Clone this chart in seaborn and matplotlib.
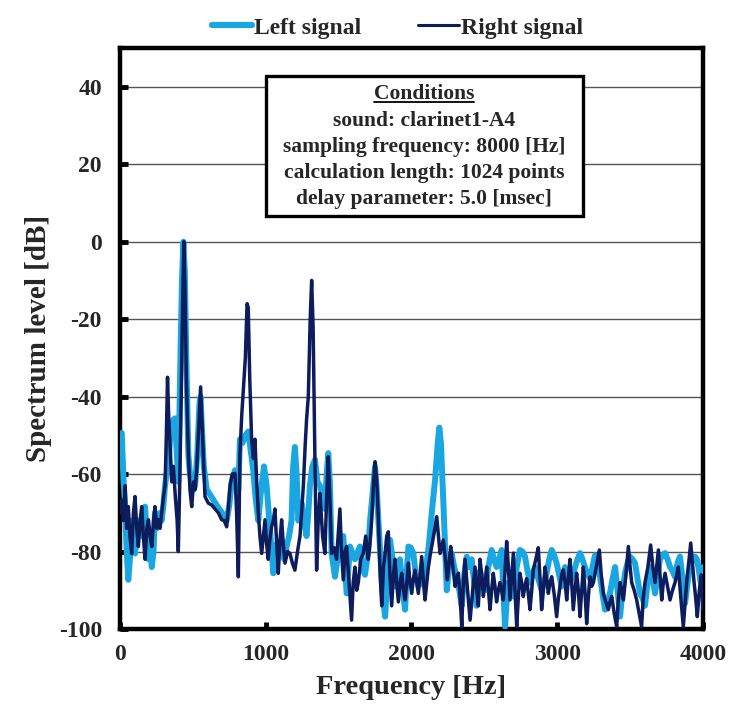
import numpy as np
import pandas as pd
import matplotlib
matplotlib.use("Agg")
import matplotlib.pyplot as plt
import seaborn as sns
from matplotlib.lines import Line2D
from matplotlib.patches import Rectangle

# ---------------- data: (frequency Hz, level dB) ----------------
left_spectrum = [
    (0, -50), (12, -49.4), (24, -61.5), (35, -68), (46, -80), (57, -87.3), (68, -82), (80, -72), (92, -76), (103, -80.5),
    (115, -76), (126, -72), (138, -74.4), (149, -76), (160, -70), (172, -68.4), (184, -76), (195, -82), (207, -78), (218, -84),
    (230, -80), (240, -70), (252, -74), (263, -72), (275, -70), (286, -72), (298, -68), (309, -63), (320, -60), (332, -58),
    (345, -50), (356, -48), (366, -46), (377, -45.6), (390, -55), (400, -62), (412, -35), (425, -10), (435, 0), (445, -8),
    (455, -30), (469, -55), (480, -60), (492, -62), (505, -64), (515, -63), (530, -55), (545, -42), (553, -40), (562, -48),
    (575, -58), (595, -64), (630, -66), (663, -68), (700, -70), (732, -72), (750, -68), (766, -62), (789, -59), (800, -62),
    (812, -64), (823, -51), (840, -52), (860, -50), (880, -49), (900, -55), (914, -59), (930, -66), (949, -72), (968, -64),
    (988, -58), (1006, -63), (1029, -74.4), (1052, -85.6), (1075, -78), (1092, -80), (1109, -77), (1126, -82), (1143, -78.7), (1160, -76),
    (1177, -72), (1188, -58), (1200, -53), (1212, -60), (1223, -72), (1235, -70), (1246, -67.5), (1262, -72), (1280, -76), (1292, -70),
    (1303, -63), (1320, -58), (1338, -56.3), (1355, -62), (1372, -63), (1390, -66), (1406, -69), (1418, -60), (1429, -54.6), (1440, -62),
    (1452, -80.5), (1475, -86.5), (1498, -80.5), (1532, -76), (1555, -90.8), (1578, -78.7), (1612, -82), (1646, -78.7), (1660, -84), (1681, -86),
    (1703, -80), (1716, -72), (1740, -62), (1750, -58), (1762, -64), (1773, -72), (1785, -80), (1800, -90), (1819, -96.8), (1836, -86),
    (1853, -77), (1870, -82), (1887, -89), (1904, -86), (1921, -82), (1940, -90), (1956, -95), (1968, -85), (1979, -78.7), (1995, -79),
    (2013, -80.5), (2030, -86), (2047, -89), (2065, -88), (2082, -87.3), (2104, -83), (2120, -78), (2139, -70), (2162, -61.5), (2180, -52),
    (2191, -48), (2202, -52), (2219, -67.5), (2242, -90), (2258, -84), (2276, -80.5), (2293, -84), (2310, -86.5), (2328, -90), (2345, -94),
    (2362, -86), (2379, -81.3), (2396, -84), (2413, -82), (2430, -88), (2447, -94), (2470, -85), (2487, -88), (2504, -90), (2527, -84),
    (2550, -79.6), (2567, -82), (2584, -84), (2602, -82), (2619, -79.6), (2630, -90), (2642, -99.4), (2653, -93), (2664, -88), (2682, -90),
    (2699, -91.6), (2722, -84), (2744, -79.6), (2762, -80), (2779, -81.3), (2796, -85), (2813, -88), (2830, -86), (2847, -84), (2870, -87),
    (2893, -90), (2910, -88), (2927, -85.6), (2945, -82), (2962, -79.6), (2979, -81), (2996, -83), (3013, -86), (3030, -89), (3053, -84),
    (3070, -86), (3087, -88), (3105, -86), (3122, -84), (3139, -82), (3156, -80.4), (3173, -82), (3190, -84), (3208, -86), (3225, -87),
    (3242, -84), (3259, -81), (3276, -83), (3294, -86.5), (3311, -91), (3328, -95), (3345, -93), (3362, -90.8), (3380, -87), (3397, -84),
    (3414, -90), (3431, -96.8), (3448, -90), (3465, -85.6), (3482, -83), (3499, -81.3), (3517, -82), (3534, -83), (3551, -87), (3568, -90.8),
    (3585, -92), (3602, -94), (3620, -88), (3637, -84), (3654, -87), (3671, -90.8), (3688, -86), (3705, -82), (3722, -81), (3740, -80.4),
    (3757, -82), (3774, -84), (3791, -85), (3808, -86.5), (3825, -83), (3842, -81.3), (3860, -87), (3877, -93.4), (3894, -88), (3911, -84),
    (3928, -82), (3945, -81.3), (3958, -82), (3968, -84), (3985, -88), (4000, -84),
]

right_spectrum = [
    (0, -70), (12, -66.7), (24, -72), (35, -63), (46, -74), (57, -68.4), (68, -76), (80, -80.5), (92, -70), (103, -65.8),
    (115, -74), (126, -78.7), (138, -72), (149, -68.4), (160, -76), (172, -82), (184, -74), (195, -71.8), (207, -76), (218, -78.7),
    (230, -72), (240, -68.4), (252, -74), (263, -71.8), (275, -74), (286, -70), (298, -66), (309, -63), (318, -50), (326, -35),
    (334, -45), (343, -52), (355, -62), (366, -58), (380, -66), (392, -72), (400, -80), (410, -62), (420, -40), (430, -15),
    (438, 0), (446, -12), (455, -35), (469, -54.6), (480, -64), (492, -68.4), (505, -62), (515, -64), (526, -59), (540, -48),
    (553, -37.5), (566, -50), (583, -65.8), (606, -67.5), (630, -68), (652, -69), (675, -70), (698, -71.8), (715, -72), (732, -73.6),
    (745, -68), (755, -63), (770, -60), (789, -59.8), (800, -70), (812, -86.5), (823, -54.6), (835, -45), (860, -30), (872, -16),
    (880, -17), (890, -35), (903, -51), (915, -56), (926, -51), (938, -62), (949, -70), (960, -76), (972, -80.5), (984, -76),
    (995, -71.8), (1006, -78), (1017, -82), (1028, -77), (1040, -73.6), (1052, -72), (1063, -69), (1075, -78), (1086, -85.6), (1098, -77),
    (1109, -71.8), (1120, -78), (1132, -83), (1150, -80), (1166, -80.5), (1183, -83), (1200, -84.8), (1218, -80), (1235, -76), (1246, -70),
    (1258, -63), (1270, -53), (1280, -46), (1292, -40), (1305, -20), (1315, -10), (1325, -22), (1337, -55), (1349, -84.8), (1360, -72),
    (1372, -65), (1390, -76), (1406, -80.5), (1418, -66), (1429, -55.5), (1440, -66), (1452, -80.5), (1470, -79), (1486, -82), (1498, -75),
    (1509, -69), (1520, -80), (1532, -87.3), (1544, -80), (1555, -78.7), (1572, -88), (1589, -97.7), (1600, -88), (1612, -84), (1624, -90),
    (1635, -88), (1652, -82), (1669, -80.5), (1686, -76), (1703, -82), (1715, -78), (1727, -71.8), (1740, -62), (1750, -56.8), (1762, -62),
    (1773, -71.8), (1785, -86), (1796, -94), (1808, -84), (1819, -80.5), (1830, -76), (1841, -74.9), (1852, -86), (1864, -94), (1876, -86),
    (1887, -82), (1898, -88), (1910, -93), (1922, -88), (1933, -85.6), (1945, -90), (1956, -92.5), (1968, -88), (1979, -83), (1990, -88),
    (2001, -90.8), (2013, -87), (2024, -84.8), (2036, -88), (2047, -90.8), (2059, -86), (2070, -81.3), (2082, -88), (2093, -92.5), (2105, -88),
    (2116, -84), (2128, -81), (2139, -78.7), (2156, -75), (2173, -71), (2185, -76), (2196, -80.5), (2208, -79), (2219, -77), (2233, -82),
    (2246, -87.3), (2258, -83), (2269, -78.7), (2284, -84), (2299, -89), (2310, -87), (2322, -85.6), (2334, -92), (2345, -99.4), (2356, -88),
    (2367, -82), (2385, -90), (2402, -97.7), (2420, -90), (2436, -84), (2448, -90), (2459, -94), (2470, -82), (2482, -86), (2493, -91.6),
    (2505, -88), (2516, -84), (2528, -90), (2539, -95), (2550, -90), (2561, -85.6), (2573, -89), (2584, -93), (2596, -90), (2607, -88),
    (2618, -90), (2630, -92.5), (2642, -85), (2653, -77.4), (2665, -84), (2676, -92.5), (2688, -86), (2699, -80.4), (2710, -90), (2722, -99.4),
    (2733, -92), (2744, -85.6), (2756, -88), (2767, -91.6), (2778, -89), (2790, -87), (2802, -91), (2813, -95), (2825, -90), (2836, -84.7),
    (2853, -82), (2870, -79), (2882, -87), (2893, -95), (2905, -90), (2916, -84), (2928, -87), (2939, -90.8), (2950, -88), (2962, -86.5),
    (2979, -91), (2996, -96.8), (3008, -92), (3019, -89), (3030, -86), (3042, -84.7), (3054, -88), (3065, -92.5), (3076, -87), (3087, -82),
    (3099, -88), (3110, -95), (3122, -90), (3133, -85.6), (3145, -90), (3156, -96.8), (3168, -90), (3179, -84), (3190, -90), (3202, -98.6),
    (3213, -92), (3225, -86.5), (3236, -89), (3248, -88), (3268, -84), (3289, -79.6), (3302, -86), (3316, -90.8), (3333, -93), (3351, -95),
    (3362, -93), (3374, -91.6), (3391, -96), (3408, -99.4), (3420, -92), (3431, -88), (3442, -90), (3454, -92.5), (3471, -86), (3488, -78.7),
    (3500, -84), (3511, -88), (3528, -90), (3545, -92.5), (3562, -96), (3579, -99.4), (3590, -92), (3602, -88), (3622, -84), (3641, -78.3),
    (3656, -84), (3671, -88), (3682, -84), (3694, -79.6), (3705, -86), (3717, -92.5), (3728, -88), (3740, -85.6), (3757, -89), (3774, -92.5),
    (3791, -90), (3808, -88), (3820, -86), (3831, -84), (3848, -92), (3865, -99.4), (3876, -94), (3888, -88), (3902, -83), (3916, -77.8),
    (3928, -83), (3939, -88), (3950, -92), (3961, -96.8), (3975, -90), (3988, -86), (4000, -95),
]

series_names = ["Left signal", "Right signal"]
series_colors = ["#1aa7e1", "#0c1c5c"]
y_ticks = [-100, -80, -60, -40, -20, 0, 20, 40]
x_ticks = [0, 1000, 2000, 3000, 4000]
condition_lines = ["Conditions", "sound: clarinet1-A4", "sampling frequency: 8000 [Hz]",
                   "calculation length: 1024 points", "delay parameter: 5.0 [msec]"]

frames = []
for name, pts in zip(series_names, [left_spectrum, right_spectrum]):
    f, v = zip(*pts)
    frames.append(pd.DataFrame({"freq": f, "level": v, "signal": name}))
df = pd.concat(frames, ignore_index=True)

# ---------------- figure ----------------
sns.set_theme(style="white")
plt.rcParams["font.family"] = ["Liberation Serif", "DejaVu Serif"]
plt.rcParams["font.weight"] = "bold"

fig = plt.figure(figsize=(7.5, 7.17), dpi=100)
fig.patch.set_facecolor("white")
ax = fig.add_axes([0.16, 0.1227, 0.7773, 0.8103])
ax.set_facecolor("white")

sns.lineplot(data=df[df.signal == series_names[0]], x="freq", y="level", color=series_colors[0],
             linewidth=4.3, estimator=None, sort=False, ax=ax, solid_joinstyle="round", zorder=3)
sns.lineplot(data=df[df.signal == series_names[1]], x="freq", y="level", color=series_colors[1],
             linewidth=2.5, estimator=None, sort=False, ax=ax, solid_joinstyle="round", zorder=4)

ax.set_xlim(0, 4000)
ax.set_ylim(-100, 50)
ax.set_yticks(y_ticks)
ax.set_xticks(x_ticks)
ax.set_yticklabels([str(v) for v in y_ticks], fontsize=17, fontweight="bold")
ax.set_xticklabels([str(v) for v in x_ticks], fontsize=17, fontweight="bold")
ax.yaxis.grid(True, color="#555555", linewidth=1.0, zorder=1)
ax.xaxis.grid(False)
ax.set_axisbelow(True)
ax.tick_params(axis="y", direction="in", length=6, width=3.5, color="black", pad=13, left=True)
ax.tick_params(axis="x", direction="in", length=5, width=3.5, color="black", pad=11, bottom=True)
for s in ax.spines.values():
    s.set_visible(True)
    s.set_color("black")
    s.set_linewidth(3.2)

ax.set_xlabel("Frequency [Hz]", fontsize=20.5, fontweight="bold", labelpad=7)
ax.set_ylabel("Spectrum level [dB]", fontsize=21, fontweight="bold", labelpad=5)

# legend
handles = [Line2D([0], [0], color=series_colors[0], linewidth=4.5, solid_capstyle="round"),
           Line2D([0], [0], color=series_colors[1], linewidth=2.2)]
fig.legend(handles, series_names, loc="center", bbox_to_anchor=(0.53, 0.961), ncol=2, frameon=False,
           prop={"size": 17, "weight": "bold"}, handlelength=1.7, handletextpad=0.1, columnspacing=2.4)

# conditions box
box = Rectangle((0.2504, 0.711), 0.5436, 0.2408, transform=ax.transAxes, facecolor="white",
                edgecolor="black", linewidth=2.4, zorder=6)
ax.add_patch(box)
line_y = [0.9208, 0.8744, 0.8296, 0.7849, 0.740]
texts = []
for txt, yy in zip(condition_lines, line_y):
    t = ax.text(0.5214, yy, txt, transform=ax.transAxes, ha="center", va="center",
                fontsize=15.5, fontweight="bold", zorder=7)
    texts.append(t)

fig.canvas.draw()
r = fig.canvas.get_renderer()
bb = texts[0].get_window_extent(r).transformed(ax.transAxes.inverted())
ax.plot([bb.x0, bb.x1], [bb.y0 + 0.004, bb.y0 + 0.004], transform=ax.transAxes, color="black",
        linewidth=1.3, zorder=7)

fig.savefig("out.png", dpi=100, facecolor="white")
